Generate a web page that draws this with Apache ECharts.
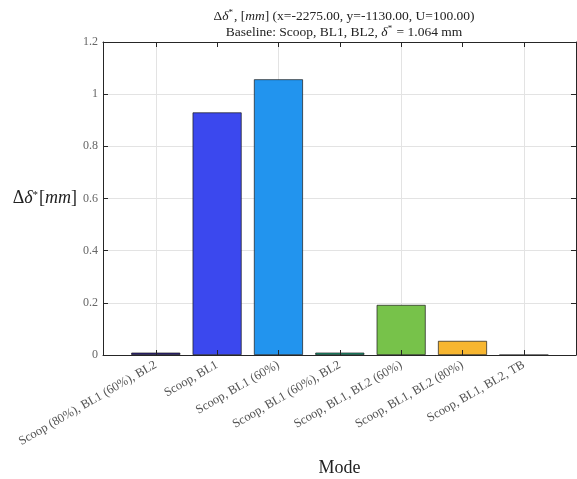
<!DOCTYPE html>
<html>
<head>
<meta charset="utf-8">
<script src="https://cdn.jsdelivr.net/npm/echarts@6/dist/echarts.min.js"></script>
<style>
  html, body { margin: 0; padding: 0; background: #fff; }
  #chart { width: 577px; height: 479px; }
</style>
</head>
<body>
<div id="chart"></div>
<script>
// Modes compared against the baseline configuration
const categories = [
  'Scoop (80%), BL1 (60%), BL2',
  'Scoop, BL1',
  'Scoop, BL1 (60%)',
  'Scoop, BL1 (60%), BL2',
  'Scoop, BL1, BL2 (60%)',
  'Scoop, BL1, BL2 (80%)',
  'Scoop, BL1, BL2, TB'
];
// Change in displacement thickness per mode [mm]
const deltaValues = [0.009, 0.930, 1.057, 0.009, 0.192, 0.054, 0.0];
const barColors = ['#2c1f86', '#3b48ee', '#2294ee', '#17a27c', '#77c24a', '#f7b630', '#f5e21f'];
const yTicks = { min: 0, max: 1.2, interval: 0.2 };

const positions = categories.map((_, i) => i);
const serif = '"Liberation Serif", "DejaVu Serif", serif';
const axisColor = '#262626';
const gridColor = '#e3e3e3';

const chart = echarts.init(document.getElementById('chart'), null, { renderer: 'canvas' });

// frame axes: line plus inward ticks only, drawn above the bars
const frameX = (extra) => Object.assign({
  type: 'value', min: -0.86, max: 6.85,
  axisLabel: { show: false }, splitLine: { show: false },
  axisLine: { show: true, onZero: false, lineStyle: { color: axisColor, width: 1 } },
  axisTick: { show: true, inside: true, length: 5, customValues: positions, lineStyle: { color: axisColor } }
}, extra);

chart.setOption({
  animation: false,
  backgroundColor: '#ffffff',
  title: {
    left: 339, top: 3, textAlign: 'center',
    text: '{n|Δ}{i|δ}{s|*}{n|, [}{i|mm}{n|] (x=-2275.00, y=-1130.00, U=100.00)}\n' +
          '{n|Baseline: Scoop, BL1, BL2, }{i|δ}{s|*}{n| = 1.064 mm}',
    textStyle: {
      fontFamily: serif, fontSize: 13.5, color: '#222', fontWeight: 'normal',
      rich: {
        n: { fontFamily: serif, fontSize: 13.5, color: '#222', lineHeight: 16 },
        i: { fontFamily: serif, fontSize: 13.5, color: '#222', fontStyle: 'italic', lineHeight: 16 },
        s: { fontFamily: serif, fontSize: 9, color: '#222', lineHeight: 16, verticalAlign: 'top', padding: [0, 1, 5, 0] }
      }
    }
  },
  grid: { left: 103, right: 1, top: 42, bottom: 124, containLabel: false, outerBoundsMode: 'none' },
  xAxis: [
    {
      type: 'value', min: -0.86, max: 6.85, position: 'bottom',
      axisLine: { show: false, onZero: false }, axisTick: { show: false },
      splitLine: { show: true, lineStyle: { color: gridColor, width: 1 } },
      axisLabel: {
        customValues: positions, rotate: 30, margin: 9,
        fontFamily: serif, fontSize: 12.5, color: '#555',
        formatter: (v) => categories[Math.round(v)] || ''
      },
      name: 'Mode', nameLocation: 'middle', nameGap: 104,
      nameTextStyle: { fontFamily: serif, fontSize: 18, color: '#222' }
    },
    frameX({ position: 'bottom', z: 10 }),
    frameX({ position: 'top', z: 10 })
  ],
  yAxis: [
    {
      type: 'value', min: yTicks.min, max: yTicks.max, interval: yTicks.interval, position: 'left',
      axisLine: { show: true, onZero: false, lineStyle: { color: axisColor, width: 1 } },
      axisTick: { show: true, inside: true, length: 5, lineStyle: { color: axisColor } },
      splitLine: { show: true, lineStyle: { color: gridColor, width: 1 } },
      axisLabel: { fontFamily: serif, fontSize: 12, color: '#666', margin: 5 },
      name: '{n|Δ}{i|δ}{s|*}{n|[}{i|mm}{n|]}', nameLocation: 'middle', nameRotate: 0, nameGap: 23,
      nameTextStyle: {
        rich: {
          n: { fontFamily: serif, fontSize: 18, color: '#222' },
          i: { fontFamily: serif, fontSize: 18, color: '#222', fontStyle: 'italic' },
          s: { fontFamily: serif, fontSize: 11, color: '#222', verticalAlign: 'top', padding: [0, 1, 7, 0] }
        }
      }
    },
    {
      type: 'value', min: yTicks.min, max: yTicks.max, interval: yTicks.interval, position: 'right',
      axisLine: { show: true, onZero: false, lineStyle: { color: axisColor, width: 1 } },
      axisTick: { show: true, inside: true, length: 5, lineStyle: { color: axisColor } },
      splitLine: { show: false }, axisLabel: { show: false }
    }
  ],
  series: [{
    type: 'bar',
    xAxisIndex: 0, yAxisIndex: 0,
    barWidth: 49,
    data: deltaValues.map((v, i) => ({
      value: [i, v],
      itemStyle: { color: barColors[i], borderColor: '#1a1a1a', borderWidth: 0.7 }
    }))
  }]
});
</script>
</body>
</html>
